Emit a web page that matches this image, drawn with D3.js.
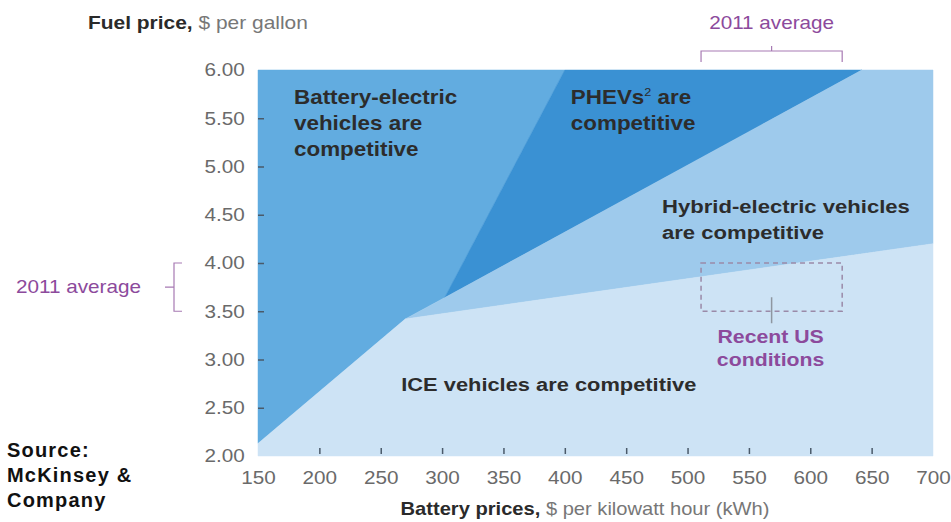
<!DOCTYPE html>
<html>
<head>
<meta charset="utf-8">
<script src="https://cdn.jsdelivr.net/npm/d3@7"></script>
<style>
  body { margin: 0; background: #fff; }
  text { font-family: "Liberation Sans", Arial, sans-serif; }
</style>
</head>
<body>
<div id="chart"></div>
<script>
// axis ticks
let xTicks = [150, 200, 250, 300, 350, 400, 450, 500, 550, 600, 650, 700];
let yTicks = [2, 2.5, 3, 3.5, 4, 4.5, 5, 5.5, 6];

// competitiveness regions, [battery $/kWh, fuel $/gal]
let bevRegion = [[150, 6], [150, 2.13], [270, 3.42], [302, 3.64], [400, 6]];
let phevRegion = [[400, 6], [302, 3.64], [642, 6]];
let hybridRegion = [[302, 3.64], [270, 3.42], [700, 4.2], [700, 6], [642, 6]];
let iceRegion = [[150, 2], [150, 2.13], [270, 3.42], [700, 4.2], [700, 2]];

// 2011 average ranges
let avgBattery = [511, 626];
let avgFuel = [3.5, 4.0];

let regionNames = ["bev", "phev", "hybrid", "ice"];
let regionColors = {bev: "#62ace0", phev: "#3a91d3", hybrid: "#9ecaec", ice: "#cde3f5"};

// the original picture is a bit wide, so text is stretched sideways
let stretch = 1.15;

function stretchText(parent, px, py) {
    return parent.append("g")
        .attr("transform", `translate(${px},${py}) scale(${stretch},1)`)
        .append("text");
}

function main() {
    let w = 951, h = 522;
    let svg = d3.select("#chart").append("svg")
        .attr("width", w)
        .attr("height", h);

    let x = d3.scaleLinear().domain([150, 700]).range([258, 933]);
    let y = d3.scaleLinear().domain([2, 6]).range([456, 70]);
    let line = d3.line().x(d => x(d[0])).y(d => y(d[1]));

    let regions = {bev: bevRegion, phev: phevRegion, hybrid: hybridRegion, ice: iceRegion};
    svg.selectAll("path.region")
        .data(regionNames)
        .enter().append("path")
        .attr("class", "region")
        .attr("d", d => line(regions[d]) + "Z")
        .attr("fill", d => regionColors[d])
        .attr("stroke", d => regionColors[d])
        .attr("stroke-width", 0.5);

    // axes
    let yAxis = d3.axisLeft(y).tickValues(yTicks).tickFormat(d3.format(".2f"))
        .tickSize(-6).tickPadding(11.5);
    let gy = svg.append("g").attr("transform", `translate(${x(150)},0)`).call(yAxis);
    gy.select(".domain").remove();

    let xAxis = d3.axisBottom(x).tickValues(xTicks).tickSize(-6).tickPadding(17);
    let gx = svg.append("g").attr("transform", `translate(0,${y(2) - 2})`).call(xAxis);
    gx.select(".domain").remove();

    [gx, gy].forEach(g => {
        g.selectAll(".tick line").attr("stroke", "#4a5a6a").attr("stroke-width", 1.5);
        g.selectAll(".tick text").attr("fill", "#6a6a6a").attr("font-size", 18)
            .attr("transform", `scale(${stretch},1)`);
    });
    gy.selectAll(".tick line").filter(d => d == 2 || d == 6).remove();
    gx.selectAll(".tick line").filter(d => d == 150 || d == 700).remove();

    // axis titles
    let yt = stretchText(svg, 88, 29).attr("font-size", 18.2);
    yt.append("tspan").attr("font-weight", "bold").attr("fill", "#2a2a2a").text("Fuel price, ");
    yt.append("tspan").attr("fill", "#777").text("$ per gallon");

    let xt = stretchText(svg, 585, 515).attr("text-anchor", "middle").attr("font-size", 17.5);
    xt.append("tspan").attr("font-weight", "bold").attr("fill", "#2a2a2a").text("Battery prices, ");
    xt.append("tspan").attr("fill", "#777").text("$ per kilowatt hour (kWh)");

    // region labels
    let labels = [
        {x: 150, y: 6, dx: 36, dy: 34, size: 19.5, lines: ["Battery-electric", "vehicles are", "competitive"]},
        {x: 400, y: 6, dx: 6, dy: 34, size: 19.5, lines: ["PHEVs\u00b2 are", "competitive"]},
        {x: 700, y: 4.2, dx: -271, dy: -31, size: 19.2, lines: ["Hybrid-electric vehicles", "are competitive"]},
        {x: 270, y: 2, dx: -4, dy: -65, size: 19, lines: ["ICE vehicles are competitive"]}
    ];
    labels.forEach(l => {
        let t = stretchText(svg, x(l.x) + l.dx, y(l.y) + l.dy)
            .attr("font-size", l.size)
            .attr("font-weight", "bold")
            .attr("fill", "#2c2c2c");
        l.lines.forEach((s, i) => {
            let sp = t.append("tspan")
                .attr("x", 0)
                .attr("y", i * 26);
            if (s.indexOf("\u00b2") >= 0) {
                sp.text("PHEVs");
                sp.append("tspan").attr("font-size", 11).attr("font-weight", "normal").attr("dy", -8).text("2");
                sp.append("tspan").attr("dy", 8).text(" are");
            } else {
                sp.text(s);
            }
        });
    });

    let purple = "#8c4a9c";
    let lightPurple = "#a77ab3";

    // recent US conditions box
    svg.append("rect")
        .attr("x", x(avgBattery[0]))
        .attr("y", y(avgFuel[1]))
        .attr("width", x(avgBattery[1]) - x(avgBattery[0]))
        .attr("height", y(avgFuel[0]) - y(avgFuel[1]))
        .attr("fill", "none")
        .attr("stroke", "#9a8aa8")
        .attr("stroke-width", 1.5)
        .attr("stroke-dasharray", "5,4");
    let midX = x(d3.mean(avgBattery));
    svg.append("line")
        .attr("x1", midX).attr("x2", midX)
        .attr("y1", y(avgFuel[0]) - 14).attr("y2", y(avgFuel[0]) + 12)
        .attr("stroke", "#8e96a0").attr("stroke-width", 1.5);
    let rt = stretchText(svg, midX - 1, y(avgFuel[0]) + 32)
        .attr("text-anchor", "middle")
        .attr("font-size", 18.5)
        .attr("font-weight", "bold")
        .attr("fill", purple);
    ["Recent US", "conditions"].forEach((s, i) => {
        rt.append("tspan").attr("x", 0).attr("y", i * 23).text(s);
    });

    // top bracket: 2011 average battery price
    let by = 62;
    svg.append("path")
        .attr("d", `M${x(avgBattery[0])},${by}V${by - 11}H${x(avgBattery[1])}V${by}M${midX},${by - 11}V${by - 16}`)
        .attr("fill", "none").attr("stroke", lightPurple).attr("stroke-width", 1.2);
    stretchText(svg, midX, 29)
        .attr("text-anchor", "middle")
        .attr("font-size", 18)
        .attr("fill", purple)
        .text("2011 average");

    // left bracket: 2011 average fuel price
    let bx = 174;
    let midY = y(d3.mean(avgFuel));
    svg.append("path")
        .attr("d", `M${bx + 8},${y(avgFuel[1])}H${bx}V${y(avgFuel[0])}H${bx + 8}M${bx},${midY}H${bx - 9}`)
        .attr("fill", "none").attr("stroke", lightPurple).attr("stroke-width", 1.2);
    stretchText(svg, 141, midY + 6)
        .attr("text-anchor", "end")
        .attr("font-size", 18)
        .attr("fill", purple)
        .text("2011 average");

    // source
    let st = svg.append("text")
        .attr("font-family", "'DejaVu Sans', sans-serif")
        .attr("font-size", 20)
        .attr("font-weight", "bold")
        .attr("letter-spacing", 1.2)
        .attr("fill", "#111");
    ["Source:", "McKinsey &", "Company"].forEach((s, i) => {
        st.append("tspan").attr("x", 7).attr("y", 457 + i * 25).text(s);
    });
}

main();
</script>
</body>
</html>
